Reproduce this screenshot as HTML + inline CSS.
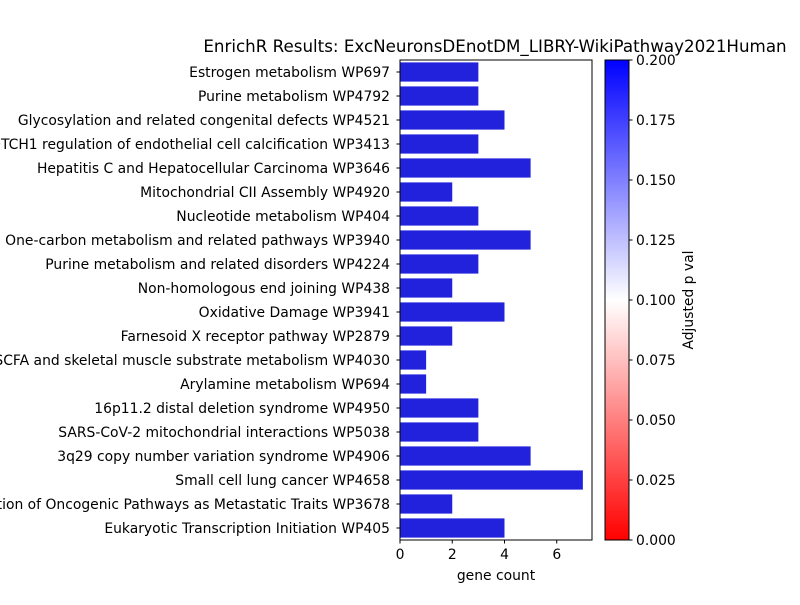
<!DOCTYPE html>
<html><head><meta charset="utf-8"><style>
body{margin:0;background:#fff;}
svg text{font-family:"DejaVu Sans","Liberation Sans",sans-serif;fill:#000;}
</style></head><body>
<svg id="chart" width="800" height="600" xmlns="http://www.w3.org/2000/svg">
<defs><linearGradient id="cb" x1="0" y1="1" x2="0" y2="0">
<stop offset="0" stop-color="#ff0000"/><stop offset="0.5" stop-color="#ffffff"/><stop offset="1" stop-color="#0000ff"/>
</linearGradient></defs>
<text x="495" y="52" font-size="16.7" text-anchor="middle">EnrichR Results: ExcNeuronsDEnotDM_LIBRY-WikiPathway2021Human</text>
<g id="bars"></g>
<g id="yaxis"></g>
<g id="xaxis"></g>
<rect x="400" y="60" width="192" height="480" fill="none" stroke="#000" stroke-width="1"/>
<rect x="605" y="60" width="24" height="480" fill="url(#cb)" stroke="#000" stroke-width="1"/>
<g id="cbaxis"></g>
<text transform="translate(693,300) rotate(-90)" font-size="13.9" text-anchor="middle">Adjusted p val</text>
<text x="496" y="580" font-size="13.9" text-anchor="middle">gene count</text>
</svg>
<script>
const categories=["Estrogen metabolism WP697","Purine metabolism WP4792","Glycosylation and related congenital defects WP4521","NOTCH1 regulation of endothelial cell calcification WP3413","Hepatitis C and Hepatocellular Carcinoma WP3646","Mitochondrial CII Assembly WP4920","Nucleotide metabolism WP404","One-carbon metabolism and related pathways WP3940","Purine metabolism and related disorders WP4224","Non-homologous end joining WP438","Oxidative Damage WP3941","Farnesoid X receptor pathway WP2879","SCFA and skeletal muscle substrate metabolism WP4030","Arylamine metabolism WP694","16p11.2 distal deletion syndrome WP4950","SARS-CoV-2 mitochondrial interactions WP5038","3q29 copy number variation syndrome WP4906","Small cell lung cancer WP4658","Acquisition of Oncogenic Pathways as Metastatic Traits WP3678","Eukaryotic Transcription Initiation WP405"];
const counts=[3,3,4,3,5,2,3,5,3,2,4,2,1,1,3,3,5,7,2,4];
const xTicks=[0,2,4,6];
const cbTicks=[0,0.025,0.05,0.075,0.1,0.125,0.15,0.175,0.2];
const cbLabels=["0.000","0.025","0.050","0.075","0.100","0.125","0.150","0.175","0.200"];
const NS="http://www.w3.org/2000/svg";
const x=v=>400+v*(192/7.35);
const band=480/categories.length;
const y=i=>60+i*band;
const cy=v=>540-v/0.2*480;
function mk(t,a,p){const e=document.createElementNS(NS,t);for(const k in a)e.setAttribute(k,a[k]);p.appendChild(e);return e;}
const gb=document.getElementById('bars'),gy=document.getElementById('yaxis'),gx=document.getElementById('xaxis'),gc=document.getElementById('cbaxis');
categories.forEach((c,i)=>{
 const r=mk('rect',{x:x(0),y:y(i)+band*0.1,width:x(counts[i])-x(0),height:band*0.8,fill:'#2222dd'},gb);
 
 
 const yc=y(i)+band/2;
 mk('line',{x1:396.5,x2:400,y1:yc,y2:yc,stroke:'#000'},gy);
 const t=mk('text',{x:390,y:yc+5,'font-size':13.9,'text-anchor':'end'},gy);t.textContent=c;
 
 
});
xTicks.forEach(v=>{
 mk('line',{x1:x(v),x2:x(v),y1:540,y2:543.5,stroke:'#000'},gx);
 const t=mk('text',{x:x(v),y:559,'font-size':13.9,'text-anchor':'middle'},gx);t.textContent=v;
 
 
});
cbTicks.forEach((v,i)=>{
 mk('line',{x1:629,x2:632.5,y1:cy(v),y2:cy(v),stroke:'#000'},gc);
 const t=mk('text',{x:636,y:cy(v)+5,'font-size':13.9},gc);t.textContent=cbLabels[i];
 
 
});
</script>
</body></html>
